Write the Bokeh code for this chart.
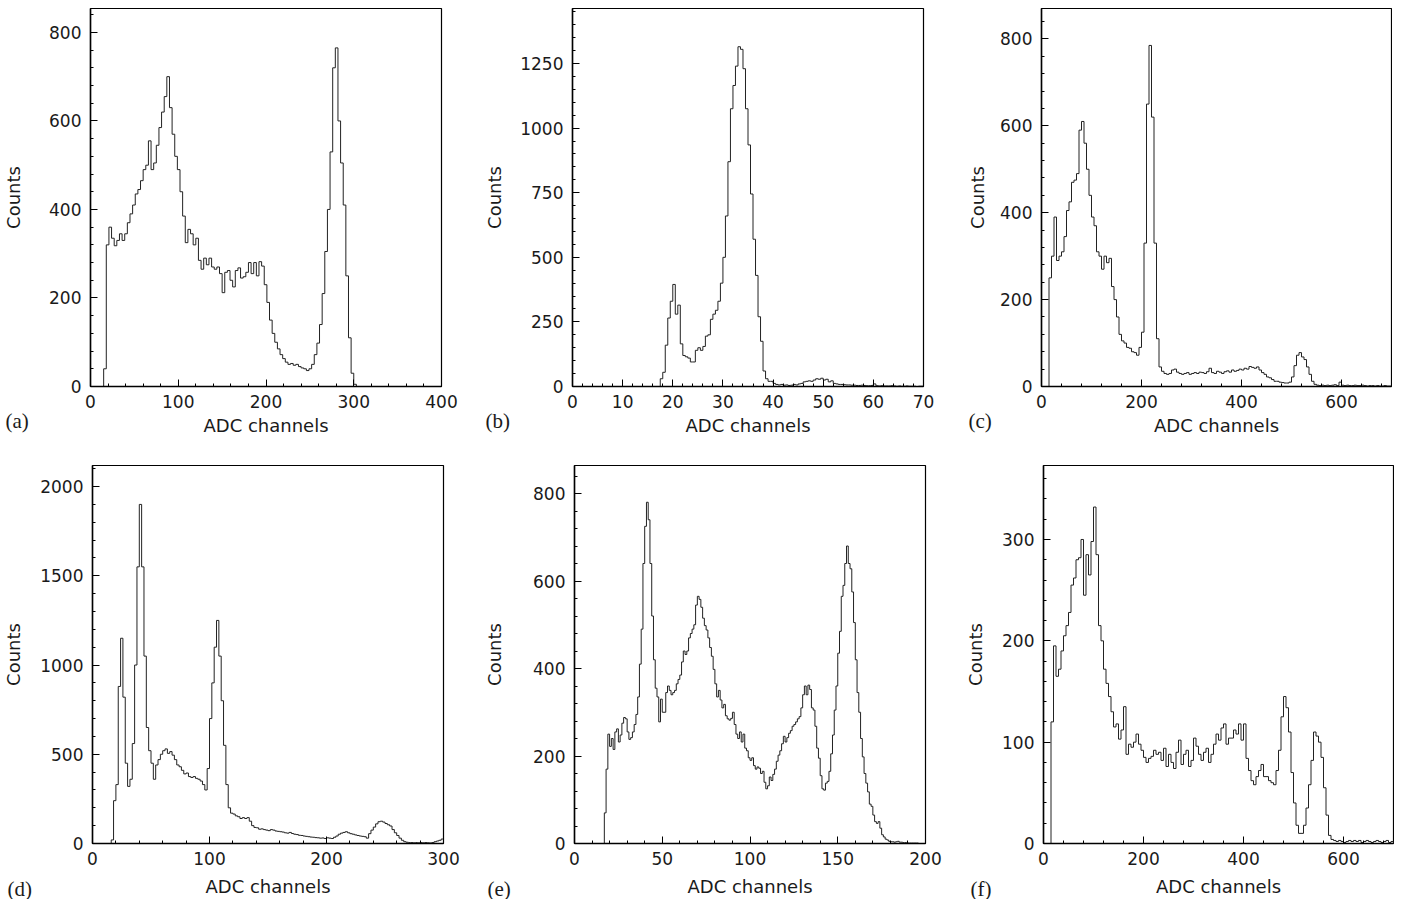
from bokeh.plotting import figure
from bokeh.layouts import column, row
from bokeh.models import Range1d, SingleIntervalTicker, Title
from bokeh.embed import file_html
from bokeh.resources import INLINE

# ---- data (bin start, bin width, counts per bin) ----
# (a)
a_start, a_width = 15, 3
a_counts = [40, 320, 360, 335, 318, 330, 345, 330, 345, 370,
            390, 410, 435, 445, 465, 490, 500, 555, 490, 505,
            545, 585, 620, 655, 700, 630, 570, 520, 490, 440,
            385, 325, 355, 345, 320, 335, 285, 265, 290, 275,
            290, 270, 265, 270, 255, 212, 258, 262, 240, 225,
            262, 268, 245, 248, 258, 280, 255, 280, 250, 282,
            272, 230, 190, 150, 120, 100, 85, 72, 63, 55,
            50, 52, 48, 50, 45, 42, 40, 36, 40, 50,
            72, 98, 140, 210, 305, 400, 530, 720, 765, 600,
            505, 410, 250, 110, 30, 5]

# (b)
b_start, b_width = 17.5, 0.5
b_counts = [30, 55, 160, 265, 330, 395, 280, 315, 165, 120,
            115, 110, 95, 95, 140, 150, 140, 155, 195, 200,
            260, 280, 295, 330, 400, 500, 660, 870, 1075, 1165,
            1240, 1315, 1305, 1230, 1075, 935, 745, 570, 430, 270,
            175, 60, 30, 20, 20, 12, 8, 6, 8, 5,
            6, 4, 5, 8, 6, 10, 12, 18, 20, 22,
            20, 25, 30, 28, 32, 25, 28, 18, 22, 12,
            10, 8, 8, 7, 6, 6, 5, 5, 4, 4,
            5, 4, 3, 3, 4, 10, 3, 2, 3, 2,
            2, 2, 3, 2, 1, 2, 1, 1, 2, 1,
            1, 1, 0, 1, 1]

# (c)
c_start, c_width = 15, 5
c_counts = [250, 300, 390, 290, 300, 310, 345, 405, 425, 470,
            475, 490, 590, 610, 560, 500, 440, 390, 370, 310,
            300, 270, 300, 285, 295, 230, 200, 160, 120, 105,
            100, 90, 88, 80, 78, 72, 90, 125, 330, 650,
            785, 620, 330, 110, 45, 35, 30, 28, 30, 38,
            40, 33, 30, 28, 30, 32, 28, 30, 32, 30,
            33, 32, 30, 34, 42, 32, 30, 35, 33, 30,
            34, 36, 33, 38, 35, 37, 40, 38, 42, 40,
            46, 44, 42, 45, 38, 32, 28, 22, 20, 16,
            12, 12, 10, 9, 8, 8, 10, 22, 48, 72,
            78, 68, 62, 45, 28, 12, 5, 3, 2, 3,
            2, 3, 2, 3, 4, 2, 10, 3, 2, 3,
            2, 2, 3, 2, 2, 3, 2, 1, 2, 2,
            1, 2, 1, 1, 2, 1, 1]

# (d)
d_start, d_width = 16, 2
d_counts = [20, 240, 330, 880, 1150, 820, 450, 320, 360, 560,
            1000, 1550, 1900, 1550, 1050, 650, 520, 450, 360, 440,
            470, 500, 520, 530, 505, 515, 495, 470, 440, 430,
            410, 390, 395, 375, 370, 375, 365, 360, 350, 330,
            300, 420, 700, 900, 1100, 1250, 1050, 800, 550, 330,
            200, 170, 165, 155, 150, 140, 145, 140, 145, 125,
            100, 90, 88, 80, 82, 78, 75, 72, 78, 75,
            70, 68, 66, 64, 60, 58, 62, 56, 52, 50,
            46, 45, 42, 40, 38, 36, 35, 33, 32, 30,
            31, 28, 32, 30, 28, 35, 42, 52, 58, 62,
            66, 60, 55, 52, 48, 45, 42, 40, 38, 30,
            55, 75, 92, 110, 122, 125, 120, 112, 105, 98,
            78, 60, 45, 30, 18, 10, 7, 5, 5, 4,
            5, 4, 5, 4, 5, 4, 3, 5, 10, 14, 18, 25]

# (e)
e_start, e_width = 17, 1
e_counts = [70, 170, 250, 222, 240, 215, 255, 262, 232, 248,
            275, 288, 285, 255, 238, 242, 255, 272, 295, 335,
            410, 490, 640, 725, 780, 740, 640, 520, 420, 355,
            335, 278, 330, 300, 300, 345, 360, 350, 340, 345,
            350, 365, 375, 385, 415, 440, 432, 440, 470, 480,
            490, 500, 545, 565, 558, 540, 515, 498, 488, 470,
            448, 428, 398, 365, 335, 350, 328, 310, 318, 292,
            285, 282, 286, 300, 272, 250, 240, 255, 232, 250,
            218, 212, 196, 190, 196, 178, 170, 175, 172, 160,
            165, 140, 125, 132, 152, 144, 158, 170, 188, 202,
            212, 228, 245, 232, 242, 252, 258, 268, 272, 278,
            285, 290, 310, 340, 360, 340, 362, 352, 310, 305,
            268, 218, 195, 155, 125, 122, 138, 142, 165, 205,
            248, 305, 360, 435, 485, 565, 590, 640, 680, 640,
            628, 575, 505, 420, 345, 300, 240, 198, 160, 138,
            118, 90, 85, 65, 50, 46, 50, 35, 20, 15,
            10, 8, 5, 4, 4, 3, 4, 5, 3, 3,
            2, 2, 2, 1, 1, 1, 1, 1, 1, 0,
            0, 0, 0]

# (f)
f_start, f_width = 15, 5
f_counts = [120, 195, 165, 172, 190, 205, 215, 228, 255, 262,
            280, 282, 300, 245, 285, 265, 298, 332, 285, 215,
            200, 172, 158, 145, 130, 115, 118, 103, 112, 135,
            88, 98, 95, 100, 108, 98, 92, 85, 80, 84,
            86, 92, 88, 90, 82, 94, 76, 88, 80, 74,
            90, 102, 78, 88, 92, 76, 82, 104, 96, 88,
            82, 90, 94, 80, 88, 98, 108, 102, 114, 118,
            98, 104, 104, 112, 108, 118, 102, 118, 84, 72,
            62, 58, 66, 72, 78, 66, 66, 62, 60, 58,
            72, 92, 125, 145, 134, 110, 70, 40, 18, 10,
            10, 18, 35, 58, 82, 110, 106, 100, 85, 55,
            28, 8, 4, 3, 2, 3, 2, 1, 2, 3,
            2, 3, 2, 3, 1, 2, 3, 2, 1, 2,
            3, 2, 1, 2, 3, 1, 2]

TICK_FONT = "DejaVu Sans"
INK = "#1a1a1a"
FRAME_H = 378


def panel(tag, start, width, counts, x_max, y_max, x_step, y_step,
          left, right, top, bottom, fw, ylab_off, xlab_off, tag_dx, tag_lift):
    p = figure(frame_width=fw, frame_height=FRAME_H,
               x_range=Range1d(0, x_max), y_range=Range1d(0, y_max),
               min_border_left=left, min_border_right=right,
               min_border_top=top, min_border_bottom=bottom,
               output_backend="svg", toolbar_location=None)

    # histogram outline
    xs = [0] + [start + width * i for i in range(len(counts) + 1)]
    ys = [0] + list(counts) + [0]
    p.step(xs, ys, mode="after", line_color="#222222", line_width=1.0)

    p.xaxis.ticker = SingleIntervalTicker(interval=x_step, num_minor_ticks=5)
    p.yaxis.ticker = SingleIntervalTicker(interval=y_step, num_minor_ticks=5)
    p.xaxis.axis_label = "ADC channels"
    p.yaxis.axis_label = "Counts"
    p.yaxis.axis_label_standoff = ylab_off
    p.xaxis.axis_label_standoff = xlab_off
    p.xaxis.major_label_standoff = 8
    p.yaxis.major_label_standoff = 9
    for ax in (p.xaxis, p.yaxis):
        ax.major_tick_in = 7
        ax.major_tick_out = 0
        ax.minor_tick_in = 3
        ax.minor_tick_out = 0
        ax.axis_line_width = 1.5
        ax.axis_line_color = "black"
        ax.major_tick_line_color = "black"
        ax.minor_tick_line_color = "black"
        ax.major_label_text_font = TICK_FONT
        ax.major_label_text_font_size = "17px"
        ax.major_label_text_color = INK
        ax.axis_label_text_font = TICK_FONT
        ax.axis_label_text_font_size = "18px"
        ax.axis_label_text_font_style = "normal"
        ax.axis_label_text_color = INK
    p.yaxis.major_label_orientation = "horizontal"

    p.xgrid.visible = False
    p.ygrid.visible = False
    p.outline_line_color = "black"
    p.outline_line_width = 1.2
    p.outline_line_alpha = 1.0
    p.background_fill_color = "white"
    p.border_fill_color = "white"

    # panel tag: a bottom title pulled up beside the axis label
    p.add_layout(Title(text=tag, align="left", offset=tag_dx,
                       vertical_align="top", standoff=-tag_lift,
                       text_font="Liberation Serif", text_font_size="21px",
                       text_font_style="normal", text_color=INK), "below")
    return p


pa = panel("(a)", a_start, a_width, a_counts, 400, 854, 100, 200,
           84, 20, 8, 60, 351, 22, 4, -85, 60)
pb = panel("(b)", b_start, b_width, b_counts, 70, 1463, 10, 250,
           111, 20, 8, 60, 351, 12, 4, -87, 60)
pc = panel("(c)", c_start, c_width, c_counts, 700, 870, 200, 200,
           98, 1, 8, 60, 350, 9, 4, -73, 60)
pd = panel("(d)", d_start, d_width, d_counts, 300, 2118, 100, 500,
           84, 20, 19, 54, 351, 13, 8, -85, 46)
pe = panel("(e)", e_start, e_width, e_counts, 200, 864, 50, 200,
           111, 20, 19, 54, 351, 25, 8, -87, 46)
pf = panel("(f)", f_start, f_width, f_counts, 700, 373, 200, 100,
           98, 1, 19, 54, 350, 13, 8, -73, 46)

layout = column(row(pa, pb, pc), row(pd, pe, pf))

open("out.html", "w").write(file_html(layout, INLINE))
